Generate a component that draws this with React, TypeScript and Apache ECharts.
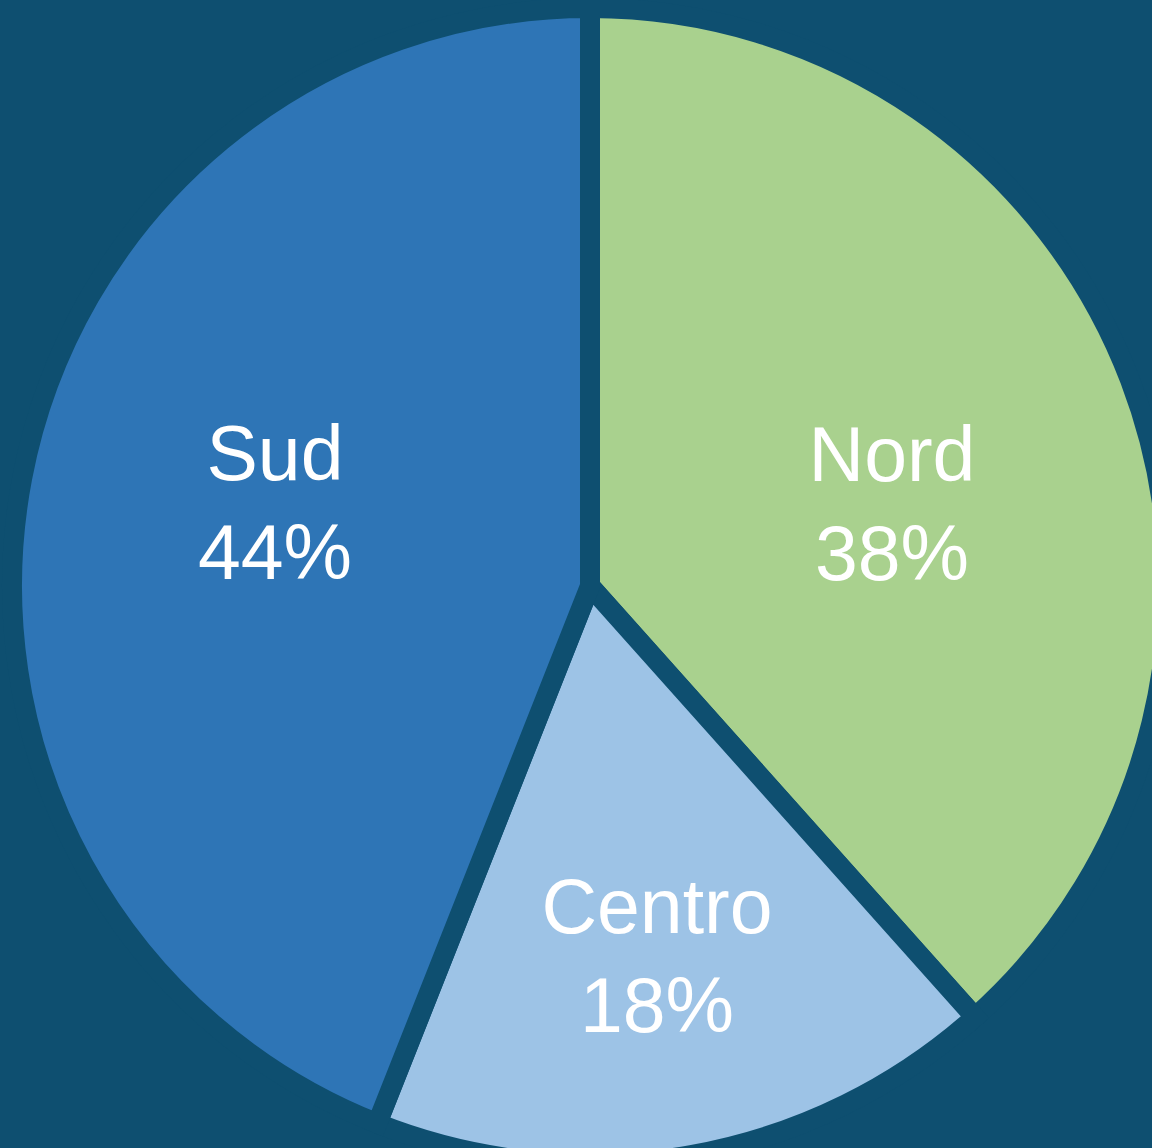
import React, { useEffect, useRef } from "react";
import * as echarts from "echarts";

const categories = ["Nord", "Centro", "Sud"];
const values = [38.4, 17.6, 44];
const colors = ["#a9d18e", "#9dc3e6", "#2e75b6"];
const BG = "#0e4f70";

// label centres (page pixels) per slice
const labelCentres: [number, number][] = [
  [892, 503],
  [657, 955],
  [275, 502],
];

export default function App() {
  const ref = useRef<HTMLDivElement>(null);
  useEffect(() => {
    if (!ref.current) return;
    const chart = echarts.init(ref.current, undefined, { renderer: "svg" });
    const total = values.reduce((a, b) => a + b, 0);
    chart.setOption({
      animation: false,
      backgroundColor: BG,
      series: [
        {
          type: "pie",
          center: [590, 586],
          radius: 578,
          startAngle: 90,
          clockwise: true,
          avoidLabelOverlap: false,
          data: categories.map((name, i) => ({
            name,
            value: values[i],
            itemStyle: { color: colors[i] },
          })),
          itemStyle: {
            borderColor: BG,
            borderWidth: 20,
            borderJoin: "miter",
            borderMiterLimit: 10,
          },
          label: {
            show: true,
            position: "inside",
            formatter: (p: any) =>
              `${p.name}\n${Math.round((p.value / total) * 100)}%`,
            color: "#ffffff",
            fontFamily: "Liberation Sans, Arial, Helvetica, sans-serif",
            fontSize: 77,
            lineHeight: 99,
            align: "center",
          },
          labelLine: { show: false },
          labelLayout: (params: any) => {
            const c = labelCentres[params.dataIndex];
            return { x: c[0], y: c[1], align: "center", verticalAlign: "middle" };
          },
          emphasis: { disabled: true },
        },
      ],
    });
    return () => chart.dispose();
  }, []);
  return (
    <div
      ref={ref}
      style={{ position: "fixed", left: 0, top: 0, width: 1152, height: 1148 }}
    />
  );
}
